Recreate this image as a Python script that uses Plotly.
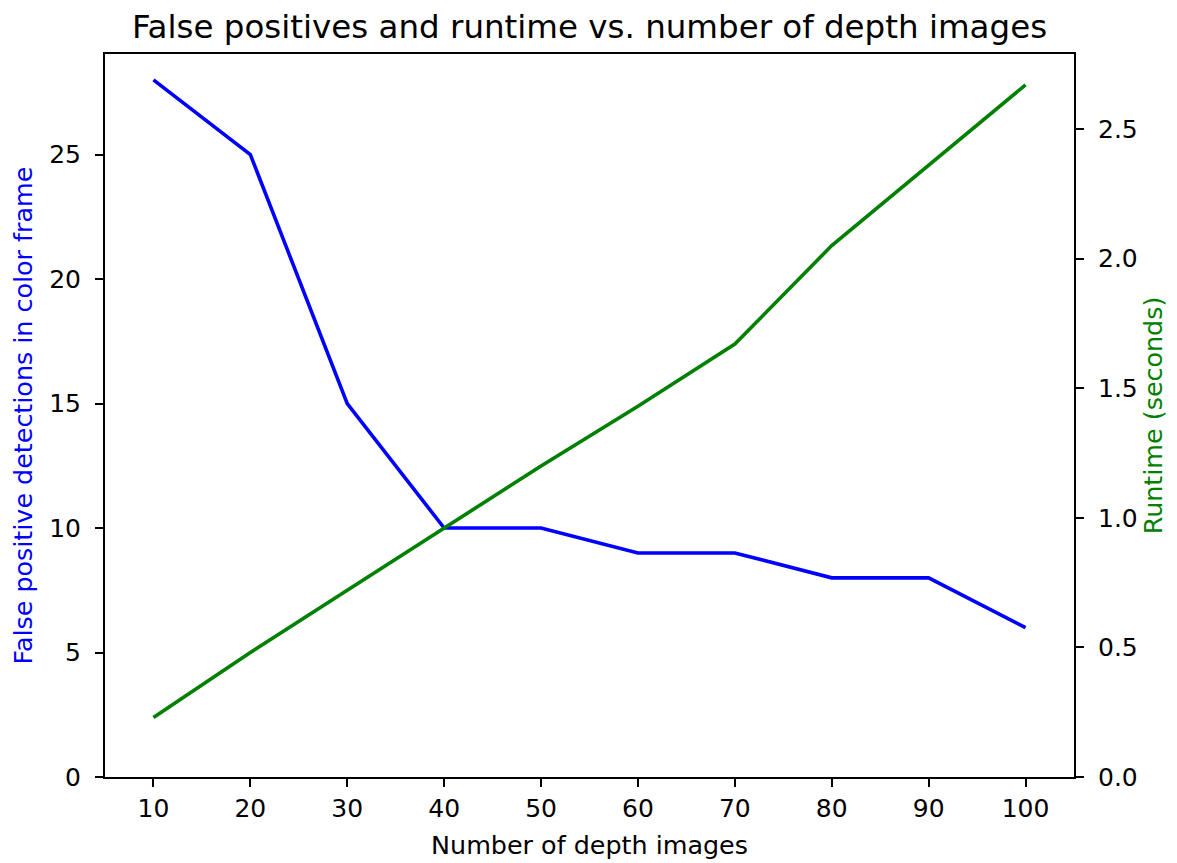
import plotly.graph_objects as go

depth_images = [10, 20, 30, 40, 50, 60, 70, 80, 90, 100]
false_positives = [28, 25, 15, 10, 10, 9, 9, 8, 8, 6]
runtime_seconds = [0.23, 0.48, 0.72, 0.96, 1.20, 1.43, 1.67, 2.05, 2.36, 2.67]

FONT = "DejaVu Sans"
W, H = 1177, 863
OFF = 8  # browser body margin
L, R, T, B = 105 - OFF, 103 + OFF, 54 - OFF, 86 + OFF

fig = go.Figure()
fig.add_trace(go.Scatter(x=depth_images, y=false_positives, mode="lines",
                         line=dict(color="#0000ff", width=3.6), yaxis="y",
                         name="False positives"))
fig.add_trace(go.Scatter(x=depth_images, y=runtime_seconds, mode="lines",
                         line=dict(color="#008000", width=3.6), yaxis="y2",
                         name="Runtime"))

axis_common = dict(showline=True, linecolor="black", linewidth=2,
                   ticks="outside", ticklen=8, tickwidth=2, tickcolor="black",
                   showgrid=False, zeroline=False,
                   tickfont=dict(family=FONT, size=25, color="black"))

fig.update_layout(
    width=W, height=H,
    margin=dict(l=L, r=R, t=T, b=B),
    paper_bgcolor="white", plot_bgcolor="white",
    showlegend=False,
    font=dict(family=FONT, size=25, color="black"),
    title=dict(text="False positives and runtime vs. number of depth images",
               font=dict(family=FONT, size=32.5, color="black"),
               x=0.5, xref="paper", xanchor="center",
               y=1 - (27 - OFF) / H, yref="container", yanchor="middle"),
    xaxis=dict(range=[5, 105], tickvals=depth_images, mirror=True,
               title=dict(text="Number of depth images",
                          font=dict(family=FONT, size=25.4, color="black"),
                          standoff=14),
               **axis_common),
    yaxis=dict(range=[0, 29.04], tickvals=[0, 5, 10, 15, 20, 25],
               ticklabelstandoff=9,
               title=dict(text="False positive detections in color frame",
                          font=dict(family=FONT, size=25.4, color="#0000ff"),
                          standoff=9),
               **axis_common),
    yaxis2=dict(range=[0, 2.789], tickvals=[0, 0.5, 1.0, 1.5, 2.0, 2.5],
                tickformat=".1f", overlaying="y", side="right",
                ticklabelstandoff=9,
                title=dict(text="Runtime (seconds)",
                           font=dict(family=FONT, size=25.4, color="#008000"),
                           standoff=7),
                **axis_common),
)

fig.write_html("out.html")
